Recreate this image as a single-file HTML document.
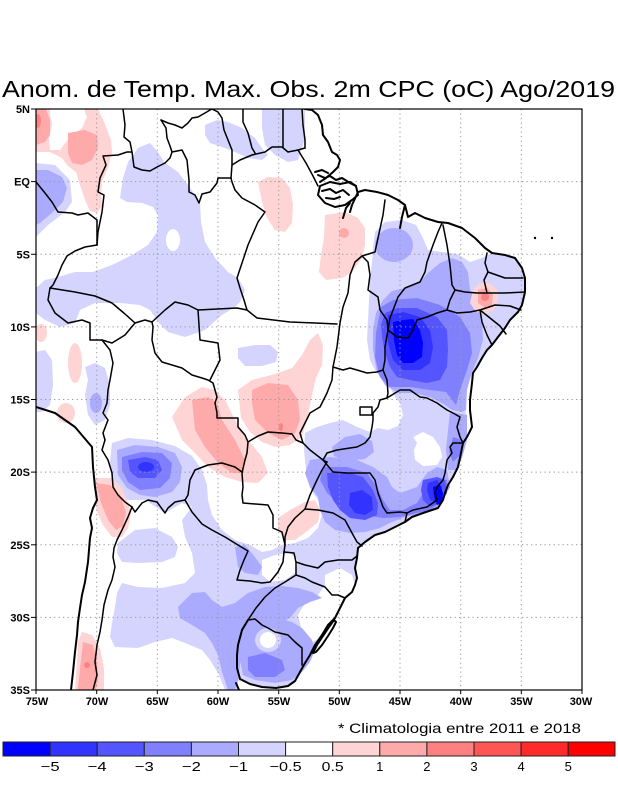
<!DOCTYPE html>
<html>
<head>
<meta charset="utf-8">
<style>
html,body{margin:0;padding:0;background:#fff;}
svg{display:block;}
.lb{fill:#d4d4ff}.m2{fill:#aaaaff}.m3{fill:#8080ff}.m4{fill:#5555ff}.m5{fill:#3333ff}.m6{fill:#0000ff}
.p1{fill:#ffd4d4}.p2{fill:#ffaaaa}.p3{fill:#ff8080}.w{fill:#ffffff}
.ln{fill:none;stroke:#000;stroke-width:1.5;stroke-linejoin:round;stroke-linecap:round}
.cs{fill:none;stroke:#000;stroke-width:2;stroke-linejoin:round;stroke-linecap:round}
.gr{stroke:#9a9a9a;stroke-width:1;stroke-dasharray:1.3 3.2}
.tk{font-family:"Liberation Sans",sans-serif;font-weight:bold;font-size:11px;fill:#000}
.cb{font-family:"Liberation Sans",sans-serif;font-size:13px;fill:#000}
</style>
</head>
<body>
<svg width="618" height="800" viewBox="0 0 618 800" xmlns="http://www.w3.org/2000/svg">
<rect x="0" y="0" width="618" height="800" fill="#fff"/>
<text x="2" y="97" font-family="'Liberation Sans',sans-serif" font-size="23" textLength="613" lengthAdjust="spacingAndGlyphs">Anom. de Temp. Max. Obs. 2m CPC (oC) Ago/2019</text>
<defs><clipPath id="pc"><rect x="36" y="109" width="546" height="581"/></clipPath></defs>
<g clip-path="url(#pc)">
<!-- light blue -->
<polygon class="lb" points="36,163 55,165 70,180 72,202 65,212 48,225 36,237"/>
<polygon class="lb" points="138,148 150,143 158,152 165,163 178,172 188,185 195,195 200,203 201,222 205,242 215,258 228,272 238,278 245,290 240,302 235,307 222,315 205,330 185,337 168,332 158,322 150,310 140,305 120,303 95,303 80,310 75,323 60,327 45,320 36,313 36,288 45,280 58,277 75,272 93,272 112,265 132,255 148,245 157,232 158,215 153,207 142,203 127,202 120,198 123,178 128,162"/>
<polygon class="lb" points="205,125 217,120 228,122 242,128 255,138 262,148 268,155 262,160 248,158 235,152 222,147 210,143 205,135"/>
<polygon class="lb" points="262,108 305,108 305,138 302,148 298,160 288,162 275,155 265,145 262,128"/>
<polygon class="lb" points="36,352 45,350 52,360 53,385 50,405 42,412 36,412"/>
<polygon class="lb" points="85,367 95,363 105,368 110,385 110,405 105,420 95,425 88,415 85,395 88,380"/>
<polygon class="lb" points="238,348 255,345 270,345 278,352 276,362 262,366 245,366 238,358"/>
<polygon class="lb" points="373,248 375,232 385,222 402,220 416,225 423,238 428,250 442,252 458,254 470,262 482,258 492,253 505,255 515,258 522,268 525,278 525,292 522,305 518,312 510,320 505,328 498,337 492,345 487,350 482,358 477,367 472,375 467,385 465,400 466,415 467,433 463,443 461,453 458,467 453,477 448,485 445,493 443,500 438,508 432,510 423,513 412,517 405,522 395,527 385,532 375,535 365,542 358,548 357,558 355,568 357,578 355,585 352,592 345,598 340,608 335,618 328,625 322,635 315,645 310,655 305,665 300,675 295,682 288,687 275,689 262,688 248,684 240,680 238,690 225,690 218,673 210,660 202,650 185,643 172,638 155,642 138,648 115,647 110,637 112,623 115,607 117,593 122,583 138,587 162,588 185,583 195,573 192,553 185,537 182,520 192,507 182,503 165,513 145,500 128,500 120,495 112,480 110,462 112,443 128,438 152,440 175,446 192,456 202,470 207,485 208,500 212,515 222,530 235,540 250,545 262,552 272,550 282,545 295,543 308,538 318,528 322,515 318,500 310,488 306,470 304,450 305,433 317,427 330,423 343,420 357,427 370,432 378,428 388,430 398,426 403,415 400,403 396,398 390,388 383,378 375,370 370,360 367,340 368,320 369,300 370,280 372,262"/>
<polygon class="lb" points="118,543 135,530 155,528 172,537 178,547 175,557 162,562 138,563 122,562 117,553"/>
<!-- white holes -->
<ellipse class="w" cx="173" cy="240" rx="7" ry="11"/>
<polygon class="w" points="413,437 423,432 433,437 440,447 442,457 437,465 423,466 415,460 414,450 417,443"/>
<polygon class="w" points="325,575 340,568 352,575 355,585 350,595 340,608 335,618 328,625 322,637 312,642 302,632 298,615 305,603 318,595 325,585"/>
<polygon class="w" points="262,560 275,555 290,553 298,560 296,572 285,580 270,582 262,575"/>
<!-- medium -->
<polygon class="m2" points="36,170 48,170 62,177 67,188 63,202 53,212 40,223 36,225"/>
<ellipse class="m2" cx="96" cy="403" rx="6" ry="10"/>
<ellipse class="m2" cx="394" cy="245" rx="19" ry="17"/>
<polygon class="m2" points="376,313 383,300 392,291 405,288 418,284 428,273 440,263 452,258 462,262 468,272 470,290 478,305 482,322 483,340 478,358 472,372 467,390 466,410 462,412 452,410 445,405 432,398 415,393 398,393 385,385 377,372 373,350 373,330"/>
<polygon class="m2" points="450,412 467,415 467,440 462,458 456,470 448,470 446,450 448,430"/>
<polygon class="m2" points="332,447 345,437 360,434 372,441 374,452 365,459 345,461 334,456"/>
<polygon class="m2" points="310,460 330,457 357,460 373,467 387,477 392,487 400,493 417,487 427,473 437,467 447,470 450,487 443,500 435,510 423,513 405,517 392,522 380,528 365,532 350,533 335,530 325,522 320,510 318,497 310,487 305,473"/>
<polygon class="m2" points="235,547 245,545 255,557 262,567 258,575 245,573 238,567"/>
<polygon class="m2" points="178,607 192,593 205,592 212,600 222,607 235,603 248,593 265,587 282,586 298,588 312,592 322,598 310,602 298,608 290,618 282,622 268,622 255,622 246,630 242,648 240,665 238,680 235,690 228,690 222,672 218,655 212,643 205,633 192,625 180,618"/>
<polygon class="m2" points="248,620 262,618 278,618 292,622 302,628 312,640 315,650 310,662 302,672 292,680 275,683 255,680 243,675 240,660 242,640 245,628"/>
<polygon class="m2" points="117,450 135,445 158,447 175,453 182,467 180,482 172,492 155,497 140,495 127,488 118,475"/>
<!-- darker -->
<polygon class="m3" points="381,307 393,300 417,298 440,305 460,317 470,333 472,353 467,370 460,390 456,405 446,392 430,390 410,387 390,387 380,377 375,357 376,333"/>
<polygon class="m3" points="453,437 462,440 460,455 453,462 449,452"/>
<polygon class="m3" points="323,467 347,467 367,473 377,487 383,500 390,510 403,510 417,503 427,487 437,477 447,480 447,493 440,503 430,510 417,513 400,517 383,518 370,516 357,514 340,505 327,493 320,480"/>
<polygon class="m3" points="248,657 265,653 282,660 285,670 275,677 255,677 248,670"/>
<polygon class="m3" points="122,457 142,452 162,453 172,463 170,478 160,488 140,490 128,482 122,470"/>
<ellipse class="lb" cx="268" cy="640" rx="13" ry="12"/>
<ellipse class="w" cx="268" cy="640" rx="8" ry="8"/>
<polygon class="w" points="238,681 250,685 262,688 282,689 282,691 238,691"/>
<polygon class="m4" points="385,313 397,308 417,308 437,317 447,330 448,350 447,367 440,380 427,383 410,380 397,377 390,367 385,353 382,337 381,325"/>
<polygon class="m4" points="327,473 347,472 363,477 373,490 378,503 377,515 365,520 350,518 340,510 333,500 328,487"/>
<polygon class="m4" points="423,480 437,477 445,480 447,493 440,503 430,507 423,500 421,490"/>
<polygon class="m4" points="128,460 145,457 158,460 162,470 155,478 138,478 130,472"/>
<polygon class="m5" points="388,315 403,312 420,317 430,330 433,347 430,363 420,370 403,370 393,360 388,343 387,330"/>
<polygon class="m5" points="350,493 362,490 372,497 373,510 365,515 355,513 349,505"/>
<polygon class="m5" points="428,483 437,480 442,487 442,500 437,503 430,500 427,490"/>
<ellipse class="m5" cx="146" cy="467" rx="8" ry="5"/>
<polygon class="m6" points="393,322 403,320 413,319 420,330 423,343 422,357 413,363 403,363 397,355 394,340"/>
<polygon class="m6" points="433,487 440,485 443,493 442,503 437,505 434,497"/>
<!-- pinks -->
<polygon class="p1" points="36,109 98,109 104,122 111,140 112,152 108,168 102,182 101,195 102,206 97,213 90,211 85,200 80,185 76,172 68,166 62,158 50,152 36,152"/>
<polygon class="w" points="50,109 84,109 87,117 82,128 73,135 66,142 60,150 50,150 49,138 52,125 50,115"/>
<polygon class="p2" points="36,109 46,109 50,120 50,135 45,142 36,145"/>
<polygon class="p2" points="68,133 85,130 97,135 98,148 92,160 82,165 72,163 68,153"/>
<ellipse class="p3" cx="38" cy="121" rx="3" ry="7"/>
<polygon class="p1" points="258,182 268,177 282,178 290,188 293,205 292,223 285,232 275,230 267,218 262,202"/>
<polygon class="p1" points="325,215 345,212 358,218 365,228 365,245 362,258 352,272 342,278 326,280 319,272 321,255 324,238"/>
<circle class="p2" cx="344" cy="233" r="5"/>
<ellipse class="p1" cx="41" cy="333" rx="6" ry="9"/>
<ellipse class="p1" cx="75" cy="363" rx="7" ry="20"/>
<ellipse class="p1" cx="66" cy="413" rx="9" ry="10"/>
<polygon class="p1" points="172,417 185,397 202,387 215,390 225,400 235,420 248,440 262,457 268,473 258,483 242,482 225,477 208,467 195,453 182,440"/>
<polygon class="p2" points="192,400 208,397 217,403 222,420 235,440 245,460 243,473 232,473 218,463 205,447 195,430"/>
<polygon class="p1" points="238,390 252,380 275,374 292,368 302,355 310,340 318,333 323,345 322,365 316,378 312,395 308,415 302,437 290,445 275,447 262,442 250,432 241,418"/>
<polygon class="p2" points="252,390 268,383 288,385 298,400 300,420 295,433 282,440 268,433 255,420 252,403"/>
<ellipse class="p3" cx="281" cy="427" rx="2" ry="4"/>
<polygon class="p1" points="473,290 480,283 490,283 497,290 498,300 494,310 486,314 476,312 470,303"/>
<polygon class="p2" points="478,290 487,288 493,295 492,305 485,308 478,303"/>
<circle class="p3" cx="485" cy="297" r="4"/>
<polygon class="p1" points="278,518 290,510 305,502 315,500 320,510 318,522 306,532 295,540 285,540 278,530"/>
<polygon class="p1" points="95,478 112,478 122,488 127,500 131,513 128,528 122,537 112,537 103,525 97,512 95,495"/>
<polygon class="p2" points="96,483 110,485 120,495 126,512 123,526 116,530 108,520 101,503"/>
<polygon class="p1" points="82,632 92,635 100,648 104,668 104,690 75,690 77,662 78,642"/>
<polygon class="p2" points="83,642 93,645 97,662 98,678 96,690 78,690 80,668"/>
<circle class="p3" cx="87" cy="665" r="3"/>
<!-- grid -->
<g class="gr">
<line x1="96.7" y1="109" x2="96.7" y2="690"/><line x1="157.3" y1="109" x2="157.3" y2="690"/>
<line x1="218" y1="109" x2="218" y2="690"/><line x1="278.7" y1="109" x2="278.7" y2="690"/>
<line x1="339.3" y1="109" x2="339.3" y2="690"/><line x1="400" y1="109" x2="400" y2="690"/>
<line x1="460.7" y1="109" x2="460.7" y2="690"/><line x1="521.3" y1="109" x2="521.3" y2="690"/>
<line x1="36" y1="181.6" x2="582" y2="181.6"/><line x1="36" y1="254.3" x2="582" y2="254.3"/>
<line x1="36" y1="326.9" x2="582" y2="326.9"/><line x1="36" y1="399.5" x2="582" y2="399.5"/>
<line x1="36" y1="472.1" x2="582" y2="472.1"/><line x1="36" y1="544.8" x2="582" y2="544.8"/>
<line x1="36" y1="617.4" x2="582" y2="617.4"/>
</g>
<!-- coasts -->
<polyline class="cs" points="305,109 312,110 318,115 322,125 323,135 328,142 332,152 337,155 340,160 338,167 333,172 326,178 320,182"/>
<polyline class="cs" points="350,212 352,205 358,192 365,190 377,192 388,195 398,200 405,205 408,217 415,213 425,218 438,222 448,223 462,228 475,238 485,248 492,253 505,255 515,258 522,268 525,278 525,292 522,305 518,312 510,320 505,328 498,337 492,345 487,350 482,358 477,367 473,373 472,383 470,400 470,410 472,427 467,437 463,443 461,453 458,467 453,477 448,485 445,493 443,500 438,508 432,510 423,513 412,517 405,522 395,527 385,532 375,535 365,542 358,548 357,558 355,568 357,578 355,585 352,592 345,598 340,608 335,618 328,625 322,635 315,645 310,655 305,663 300,672 295,681 288,686 276,688 262,687 250,684 240,679 237,668 237,655 238,645 242,630 248,620"/>
<polyline class="cs" points="236,683 239,690"/>
<polyline class="cs" points="405,205 402,217 400,228"/>
<polygon class="cs" points="320,186 330,182 340,184 350,182 356,186 358,195 352,200 345,205 335,207 325,203 318,195"/>
<polyline class="cs" points="318,175 325,178 330,176 336,180 342,178 350,183 356,186"/>
<polyline class="cs" points="322,191 330,189 336,193 343,190 349,195"/>
<polyline class="cs" points="326,198 334,199 340,197"/>
<polyline class="cs" points="343,218 346,208 350,203"/>
<polyline class="cs" points="315,172 322,170 328,173"/>
<polygon class="cs" points="334,620 329,627 323,636 317,645 313,653 316,652 322,645 328,636 333,628 336,622"/>
<polyline class="cs" points="36,407 55,413 75,427 92,447 93,467 95,487 97,500 93,508 90,518 92,528 90,538 88,562 85,582 82,595 80,608 78,622 77,635 75,652 73,672 71,690"/>
<circle cx="535" cy="238" r="1.2" fill="#000"/><circle cx="552" cy="238" r="1.2" fill="#000"/>
<!-- borders -->
<polyline class="ln" points="123,109 125,125 124,137 130,142 132,152 134,167 142,170 150,171 157,167 165,163 170,158 172,152 182,150 187,160 188,170 189,180 189,192 195,195 199,203 202,194 210,192 217,183 218,178 231,178"/>
<polyline class="ln" points="161,120 168,123 175,125 182,128 188,123 192,118 198,117 205,113 210,110 212,109"/>
<polyline class="ln" points="161,120 166,128 167,138 170,146 172,152"/>
<polyline class="ln" points="97,245 98,232 102,212 104,195 98,192 100,178 106,165 103,156 118,155 127,152 132,152"/>
<polyline class="ln" points="36,182 45,193 52,202 58,212 72,213 78,215 88,213 97,220 97,235 97,245"/>
<polyline class="ln" points="97,245 85,247 75,251 67,256 62,265 58,275 53,285 50,288 48,300 55,313 68,323 82,320 90,323 90,340 102,340"/>
<polyline class="ln" points="50,288 75,292 95,296 112,303 125,314 135,323"/>
<polyline class="ln" points="102,340 112,343 125,335 135,323 145,320 152,322 165,310 175,302 188,305 198,310"/>
<polyline class="ln" points="152,322 153,327 152,340 155,353 162,362 172,365 182,368 192,375 202,378 208,380 213,383 217,397 215,403 217,413 217,418 238,418 238,427 245,435 248,442 247,453 245,460 242,473 243,487 242,495 243,503 268,505 273,515 273,528 282,532 285,545 284,552"/>
<polyline class="ln" points="198,310 200,340 218,343 220,360 216,368 210,380"/>
<polyline class="ln" points="198,310 237,308 247,310"/>
<polyline class="ln" points="231,178 232,182 235,190 242,198 255,205 265,212 258,222 248,245 237,278 240,288 244,300 247,310"/>
<polyline class="ln" points="247,310 257,318 290,322 315,323 337,324"/>
<polyline class="ln" points="212,109 218,112 222,118 224,130 228,140 232,150 232,165 240,160 252,155 265,152 272,147 282,147 288,152 298,150 305,148"/>
<polyline class="ln" points="232,165 231,178"/>
<polyline class="ln" points="243,109 243,122 248,133 252,148 255,153"/>
<polyline class="ln" points="283,109 283,147"/>
<polyline class="ln" points="302,109 303,125 305,140 305,148"/>
<polyline class="ln" points="298,150 306,163 313,176 318,186"/>
<polyline class="ln" points="385,200 383,215 378,238 375,252 362,256 355,262 350,275 348,293 343,307 340,323 337,347 333,367 332,380 327,393 320,407 310,413 305,423 300,433 303,443 310,450 323,460 327,462"/>
<polyline class="ln" points="362,256 368,262 370,275 368,290 378,297 380,310 387,320 388,330"/>
<polyline class="ln" points="442,223 438,232 433,245 427,262 425,272 420,282 405,288 398,297 395,305 390,318 388,330"/>
<polyline class="ln" points="443,225 447,245 450,265 452,285 455,290"/>
<polyline class="ln" points="388,330 397,337 408,338 413,330 417,320 427,317 437,313 447,310 450,300 455,290"/>
<polyline class="ln" points="455,290 465,292 477,293 487,293 505,293 525,292"/>
<polyline class="ln" points="487,253 485,263 488,272 484,280 487,293"/>
<polyline class="ln" points="488,272 505,278 523,278"/>
<polyline class="ln" points="447,310 457,313 470,312 480,310 495,305 510,306 521,310"/>
<polyline class="ln" points="480,310 490,318 500,326 506,334"/>
<polyline class="ln" points="480,310 482,322 487,335 492,345"/>
<polyline class="ln" points="333,367 343,370 350,368 357,370 367,373 377,372 383,370"/>
<polyline class="ln" points="388,330 385,347 385,360 383,370 387,380 388,393 387,398"/>
<polyline class="ln" points="387,398 380,400 378,407 373,413 373,420 372,427 370,437 365,443 357,447 350,448 337,450 327,453 323,460"/>
<rect class="ln" x="360" y="407" width="12" height="8"/>
<polyline class="ln" points="387,398 400,390 410,390 420,397 427,398 437,403 447,410 453,413 460,417 457,427 460,437 463,443"/>
<polyline class="ln" points="463,443 453,443 450,447 452,453 447,460 445,473 443,480 437,487 435,493"/>
<polyline class="ln" points="435,493 437,500 427,507 413,510 407,513"/>
<polyline class="ln" points="323,460 333,472 347,473 370,473 375,480 378,493 383,507 387,513 400,512 407,513 405,522"/>
<polyline class="ln" points="327,462 322,470 317,480 310,495 305,509"/>
<polyline class="ln" points="305,509 295,518 288,527 285,537 285,545"/>
<polyline class="ln" points="305,509 318,510 333,513 345,520 352,533 357,542 362,546"/>
<polyline class="ln" points="248,442 258,436 268,432 282,433 292,434 296,440 303,443"/>
<polyline class="ln" points="296,562 305,565 318,568 325,562 338,560 352,560 357,556"/>
<polyline class="ln" points="296,575 305,578 312,582 325,587 332,595 338,595 345,598"/>
<polyline class="ln" points="284,552 294,553 296,562 296,575 285,582 275,588 265,597 256,608 248,620"/>
<polyline class="ln" points="248,620 255,619 262,625 268,628 275,632 288,635 295,642 302,648 302,665"/>
<polyline class="ln" points="185,500 192,512 202,524 212,530 225,537 238,545 248,551 244,560 240,570 237,580 250,581 262,583 270,582 278,572 283,562 284,552"/>
<polyline class="ln" points="242,472 235,467 222,463 208,465 195,470 190,480 188,495 185,500"/>
<polyline class="ln" points="132,507 135,512 142,503 148,500 157,502 165,513 168,508 175,502 185,500"/>
<polyline class="ln" points="102,340 110,350 113,363 110,380 108,390 107,403 103,413 108,420 103,433 105,440"/>
<polyline class="ln" points="105,440 102,450 108,460 112,473 113,487 118,495 125,502 132,507"/>
<polyline class="ln" points="132,507 128,517 122,530 117,540 114,548 113,557 115,567 112,580 108,590 104,605 102,620 100,632 97,645 95,662 97,675 93,690"/>
</g>
<!-- frame -->
<rect x="36" y="109" width="546" height="581" fill="none" stroke="#000" stroke-width="1.2"/>
<g stroke="#000" stroke-width="1">
<line x1="31" y1="109" x2="36" y2="109"/><line x1="31" y1="181.6" x2="36" y2="181.6"/><line x1="31" y1="254.3" x2="36" y2="254.3"/>
<line x1="31" y1="326.9" x2="36" y2="326.9"/><line x1="31" y1="399.5" x2="36" y2="399.5"/><line x1="31" y1="472.1" x2="36" y2="472.1"/>
<line x1="31" y1="544.8" x2="36" y2="544.8"/><line x1="31" y1="617.4" x2="36" y2="617.4"/><line x1="31" y1="690" x2="36" y2="690"/>
<line x1="36" y1="690" x2="36" y2="694"/><line x1="96.7" y1="690" x2="96.7" y2="694"/><line x1="157.3" y1="690" x2="157.3" y2="694"/>
<line x1="218" y1="690" x2="218" y2="694"/><line x1="278.7" y1="690" x2="278.7" y2="694"/><line x1="339.3" y1="690" x2="339.3" y2="694"/>
<line x1="400" y1="690" x2="400" y2="694"/><line x1="460.7" y1="690" x2="460.7" y2="694"/><line x1="521.3" y1="690" x2="521.3" y2="694"/>
<line x1="582" y1="690" x2="582" y2="694"/>
</g>
<g class="tk" text-anchor="end">
<text x="30" y="113">5N</text><text x="30" y="185.6">EQ</text><text x="30" y="258.3">5S</text>
<text x="30" y="330.9">10S</text><text x="30" y="403.5">15S</text><text x="30" y="476.1">20S</text>
<text x="30" y="548.8">25S</text><text x="30" y="621.4">30S</text><text x="30" y="694">35S</text>
</g>
<g class="tk" text-anchor="middle">
<text x="37" y="705">75W</text><text x="97" y="705">70W</text><text x="157.5" y="705">65W</text>
<text x="218" y="705">60W</text><text x="279" y="705">55W</text><text x="339.5" y="705">50W</text>
<text x="400" y="705">45W</text><text x="461" y="705">40W</text><text x="521.5" y="705">35W</text>
<text x="581" y="705">30W</text>
</g>
<text x="338" y="733" font-family="'Liberation Sans',sans-serif" font-size="14" textLength="243" lengthAdjust="spacingAndGlyphs">* Climatologia entre 2011 e 2018</text>
<!-- colorbar -->
<g stroke="#222" stroke-width="1">
<rect x="3" y="742" width="47.1" height="14" fill="#0000ff"/>
<rect x="50.1" y="742" width="47.1" height="14" fill="#3333ff"/>
<rect x="97.2" y="742" width="47.1" height="14" fill="#5555ff"/>
<rect x="144.3" y="742" width="47.1" height="14" fill="#8080ff"/>
<rect x="191.4" y="742" width="47.1" height="14" fill="#aaaaff"/>
<rect x="238.5" y="742" width="47.1" height="14" fill="#d4d4ff"/>
<rect x="285.6" y="742" width="47.1" height="14" fill="#ffffff"/>
<rect x="332.7" y="742" width="47.1" height="14" fill="#ffd4d4"/>
<rect x="379.8" y="742" width="47.1" height="14" fill="#ffaaaa"/>
<rect x="426.9" y="742" width="47.1" height="14" fill="#ff8080"/>
<rect x="474" y="742" width="47.1" height="14" fill="#ff5555"/>
<rect x="521.1" y="742" width="47.1" height="14" fill="#ff2a2a"/>
<rect x="568.2" y="742" width="46.8" height="14" fill="#ff0000"/>
</g>
<g class="cb" text-anchor="middle">
<text x="50.1" y="771" textLength="19" lengthAdjust="spacingAndGlyphs">−5</text>
<text x="97.2" y="771" textLength="19" lengthAdjust="spacingAndGlyphs">−4</text>
<text x="144.3" y="771" textLength="19" lengthAdjust="spacingAndGlyphs">−3</text>
<text x="191.4" y="771" textLength="19" lengthAdjust="spacingAndGlyphs">−2</text>
<text x="238.5" y="771" textLength="19" lengthAdjust="spacingAndGlyphs">−1</text>
<text x="285.6" y="771" textLength="32" lengthAdjust="spacingAndGlyphs">−0.5</text>
<text x="332.7" y="771" textLength="22" lengthAdjust="spacingAndGlyphs">0.5</text>
<text x="379.8" y="771">1</text>
<text x="426.9" y="771">2</text>
<text x="474" y="771">3</text>
<text x="521.1" y="771">4</text>
<text x="568.2" y="771">5</text>
</g>
</svg>
</body>
</html>
